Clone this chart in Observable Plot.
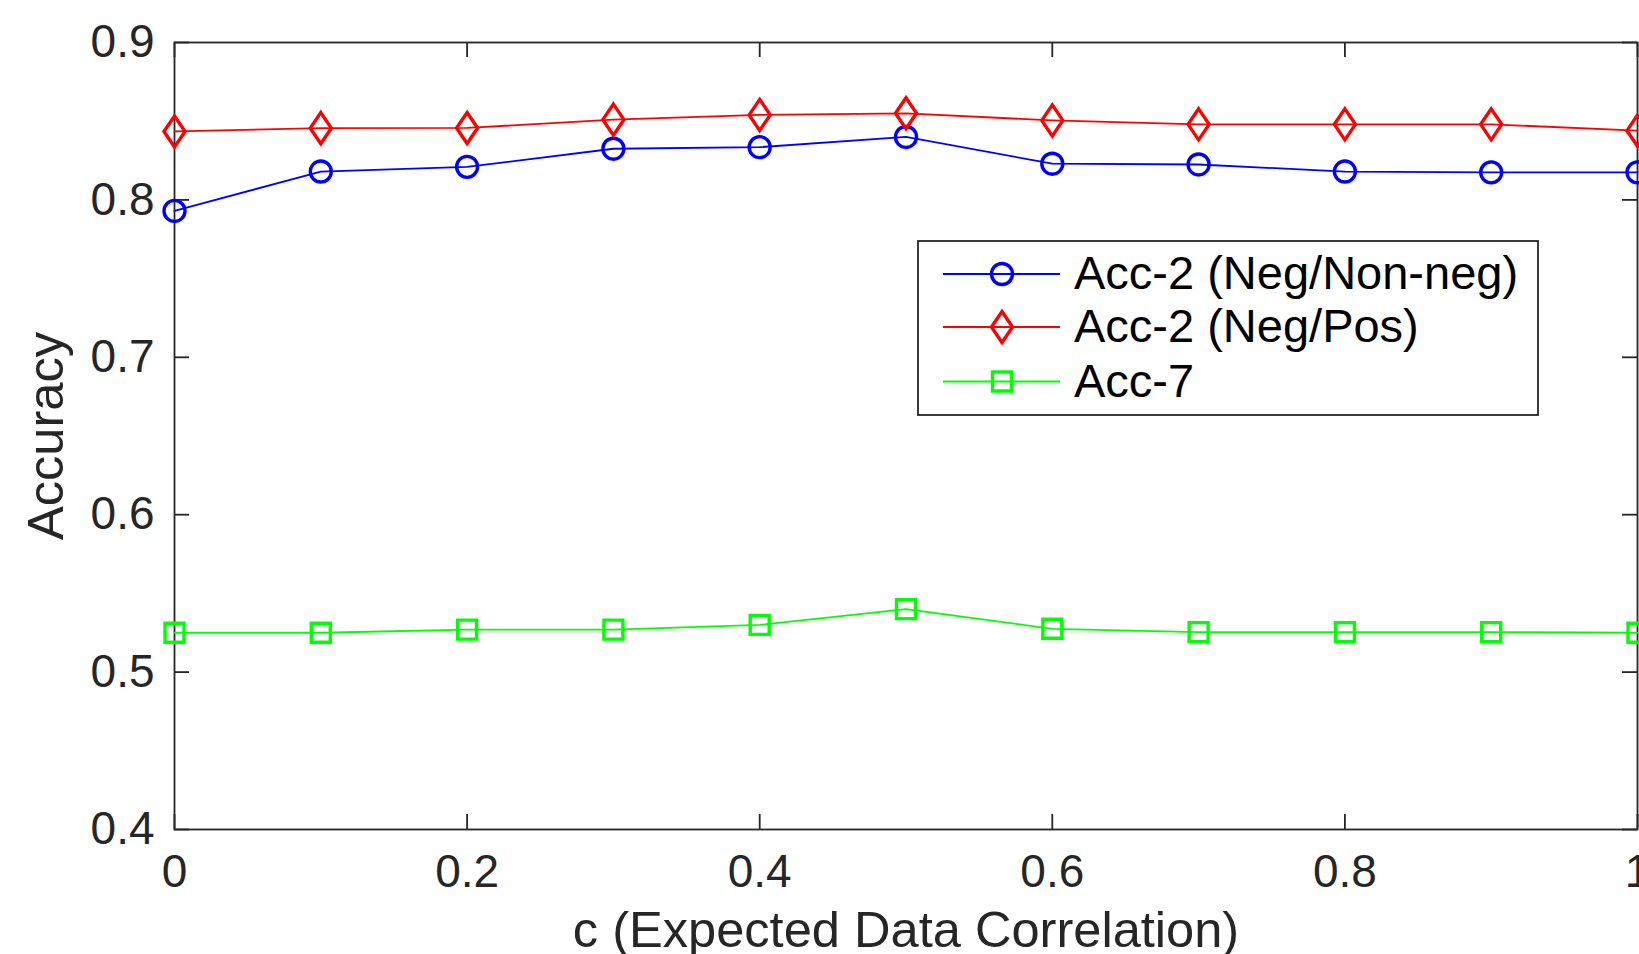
<!DOCTYPE html>
<html>
<head>
<meta charset="utf-8">
<script src="https://cdn.jsdelivr.net/npm/d3@7"></script>
<script src="https://cdn.jsdelivr.net/npm/@observablehq/plot@0.6"></script>
<style>
html, body { margin: 0; padding: 0; background: #fff; }
#wrap { position: relative; width: 1639px; height: 954px; overflow: hidden; font-family: "Liberation Sans", Arial, Helvetica, sans-serif; }
#legend { position: absolute; left: 917px; top: 240px; width: 622px; height: 176px; }
</style>
</head>
<body>
<div id="wrap"><div id="legend"></div></div>
<script>
// ---- data ----
const cValues = [0, 0.1, 0.2, 0.3, 0.4, 0.5, 0.6, 0.7, 0.8, 0.9, 1.0];
const accNegNonNeg = [0.793, 0.818, 0.821, 0.8325, 0.8335, 0.840, 0.823, 0.8225, 0.818, 0.8175, 0.8175];
const accNegPos    = [0.8435, 0.8456, 0.8457, 0.851, 0.854, 0.855, 0.8505, 0.848, 0.848, 0.848, 0.844];
const acc7         = [0.525, 0.525, 0.527, 0.527, 0.530, 0.540, 0.5275, 0.5254, 0.5254, 0.5254, 0.525];
const seriesNames  = ["Acc-2 (Neg/Non-neg)", "Acc-2 (Neg/Pos)", "Acc-7"];
const seriesColors = ["#0000ff", "#ff0000", "#00ff00"];
const xTicks = [0, 0.2, 0.4, 0.6, 0.8, 1];
const xTickLabels = ["0", "0.2", "0.4", "0.6", "0.8", "1"];
const yTicks = [0.4, 0.5, 0.6, 0.7, 0.8, 0.9];
const yTickLabels = ["0.4", "0.5", "0.6", "0.7", "0.8", "0.9"];
const xLabel = "c (Expected Data Correlation)";
const yLabel = "Accuracy";

// ---- symbols ----
const tallDiamond = {
  draw(ctx, size) {
    const r = Math.sqrt(size / Math.PI);
    const hw = r * 0.68;
    ctx.moveTo(0, -r); ctx.lineTo(hw, 0); ctx.lineTo(0, r); ctx.lineTo(-hw, 0); ctx.closePath();
  }
};
const plainSquare = {
  draw(ctx, size) {
    const r = Math.sqrt(size / Math.PI);
    ctx.rect(-r, -r, 2 * r, 2 * r);
  }
};
const plainCircle = {
  draw(ctx, size) {
    const r = Math.sqrt(size / Math.PI);
    ctx.moveTo(r, 0); ctx.arc(0, 0, r, 0, 2 * Math.PI);
  }
};
const seriesSymbols = [plainCircle, tallDiamond, plainSquare];
const seriesR = [10.5, 15.5, 9.5];
const seriesValues = [accNegNonNeg, accNegPos, acc7];

const tables = seriesValues.map(vals => cValues.map((c, i) => ({c, acc: vals[i]})));

const W = 1639, H = 954;
const mL = 174, mR = 2, mT = 42, mB = 125;
const innerW = W - mL - mR, innerH = H - mT - mB;
const tickLen = 15;
const axisColor = "#262626";
const markerStroke = 3.4;
const font = '"Liberation Sans", Arial, Helvetica, sans-serif';

const marks = [
  Plot.frame({stroke: axisColor, strokeWidth: 1.8}),
  // inward ticks: bottom, top, left, right
  Plot.tickX(xTicks, {x: d => d, stroke: axisColor, strokeWidth: 1.8, insetTop: innerH - tickLen}),
  Plot.tickX(xTicks, {x: d => d, stroke: axisColor, strokeWidth: 1.8, insetBottom: innerH - tickLen}),
  Plot.tickY(yTicks, {y: d => d, stroke: axisColor, strokeWidth: 1.8, insetRight: innerW - tickLen}),
  Plot.tickY(yTicks, {y: d => d, stroke: axisColor, strokeWidth: 1.8, insetLeft: innerW - tickLen}),
  Plot.axisX(xTicks, {anchor: "bottom", tickSize: 0, tickPadding: 25, fontSize: 46, color: axisColor,
    tickFormat: d => xTickLabels[xTicks.indexOf(d)], label: null}),
  Plot.axisY(yTicks, {anchor: "left", tickSize: 0, tickPadding: 20, fontSize: 46, color: axisColor,
    tickFormat: d => yTickLabels[yTicks.indexOf(d)], label: null}),
  Plot.text([xLabel], {text: d => d, frameAnchor: "bottom", dy: 117, lineAnchor: "bottom",
    textAnchor: "middle", fontSize: 50.6, fill: axisColor}),
  Plot.text([yLabel], {text: d => d, frameAnchor: "left", dx: -112, rotate: -90, lineAnchor: "bottom",
    textAnchor: "middle", fontSize: 50.6, fill: axisColor})
];
tables.forEach((t, k) => {
  marks.push(Plot.line(t, {x: "c", y: "acc", stroke: seriesColors[k], strokeWidth: 1.8}));
  marks.push(Plot.dot(t, {x: "c", y: "acc", symbol: seriesSymbols[k], r: seriesR[k],
    stroke: seriesColors[k], strokeWidth: markerStroke, fill: "none"}));
});

const chart = Plot.plot({
  width: W, height: H,
  marginLeft: mL, marginRight: mR, marginTop: mT, marginBottom: mB,
  x: {domain: [0, 1]},
  y: {domain: [0.4, 0.9]},
  style: {fontFamily: font, background: "white", overflow: "visible"},
  marks
});
document.getElementById("wrap").insertBefore(chart, document.getElementById("legend"));

// ---- legend (overlay) ----
const lw = 622, lh = 176;
const lsvg = d3.select("#legend").append("svg").attr("width", lw).attr("height", lh)
  .style("font-family", font);
lsvg.append("rect").attr("x", 1).attr("y", 1).attr("width", lw - 2).attr("height", lh - 2)
  .attr("fill", "white").attr("stroke", axisColor).attr("stroke-width", 1.8);
const rowY = [34, 87, 141.5];
seriesNames.forEach((name, k) => {
  const g = lsvg.append("g").attr("transform", `translate(0,${rowY[k]})`);
  g.append("line").attr("x1", 26).attr("x2", 143).attr("y1", 0).attr("y2", 0)
    .attr("stroke", seriesColors[k]).attr("stroke-width", 1.8);
  g.append("path").attr("transform", "translate(85,0)")
    .attr("d", d3.symbol(seriesSymbols[k], Math.PI * seriesR[k] * seriesR[k])())
    .attr("fill", "none").attr("stroke", seriesColors[k]).attr("stroke-width", markerStroke);
  g.append("text").attr("x", 157).attr("y", 15).attr("font-size", 47).attr("fill", "#000").text(name);
});
</script>
</body>
</html>
